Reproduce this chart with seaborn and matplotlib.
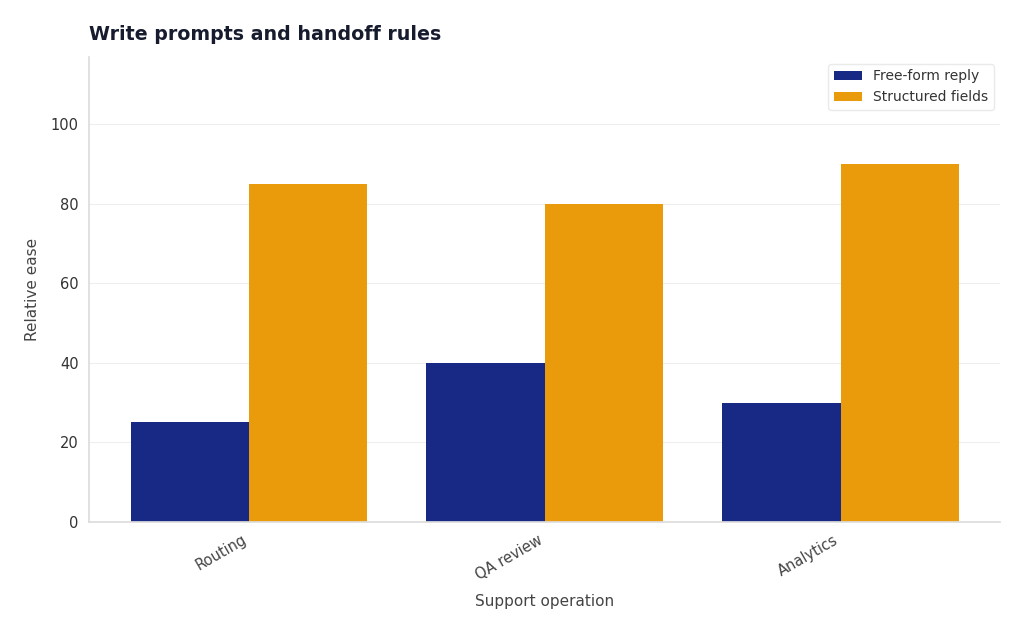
import pandas as pd
import matplotlib
matplotlib.use("Agg")
import matplotlib.pyplot as plt
import seaborn as sns

# chart data
operations = ["Routing", "QA review", "Analytics"]
free_form = [25, 40, 30]
structured = [85, 80, 90]
series_names = ["Free-form reply", "Structured fields"]

df = pd.DataFrame({
    "Support operation": operations * 2,
    "Relative ease": free_form + structured,
    "Style": [series_names[0]] * 3 + [series_names[1]] * 3,
})

sns.set_theme(style="whitegrid")
plt.rcParams["font.family"] = ["DejaVu Sans"]

fig, ax = plt.subplots(figsize=(10.24, 6.31), dpi=100)
sns.barplot(data=df, x="Support operation", y="Relative ease", hue="Style",
            palette=["#172984", "#EA9B0B"], width=0.8, saturation=1,
            linewidth=0, ax=ax)

ax.set_ylim(0, 117)
ax.set_xlim(-0.54, 2.54)
ax.set_yticks([0, 20, 40, 60, 80, 100])
ax.grid(axis="y", color="#EEEEEE", linewidth=0.8)
ax.grid(axis="x", visible=False)
for side in ["top", "right"]:
    ax.spines[side].set_visible(False)
for side in ["left", "bottom"]:
    ax.spines[side].set_color("#DDDDDD")
ax.tick_params(axis="both", labelsize=10.5, length=4, width=0.8,
               color="#555555", labelcolor="#333333")
ax.tick_params(axis="x", labelcolor="#444444")
plt.setp(ax.get_xticklabels(), rotation=30, ha="right")

ax.set_xlabel("Support operation", fontsize=11, color="#444444", labelpad=8)
ax.set_ylabel("Relative ease", fontsize=11, color="#444444", labelpad=8)
ax.set_title("Write prompts and handoff rules", fontsize=13.7, fontweight="bold",
             color="#161B2E", loc="left", pad=12)

leg = ax.legend(loc="upper right", fontsize=10, frameon=True, title=None,
                handlelength=2.0)
leg.get_frame().set_edgecolor("#E5E5E5")
for t in leg.get_texts():
    t.set_color("#333333")

fig.subplots_adjust(left=0.087, right=0.977, top=0.91, bottom=0.173)
fig.savefig("out.png", dpi=100)
